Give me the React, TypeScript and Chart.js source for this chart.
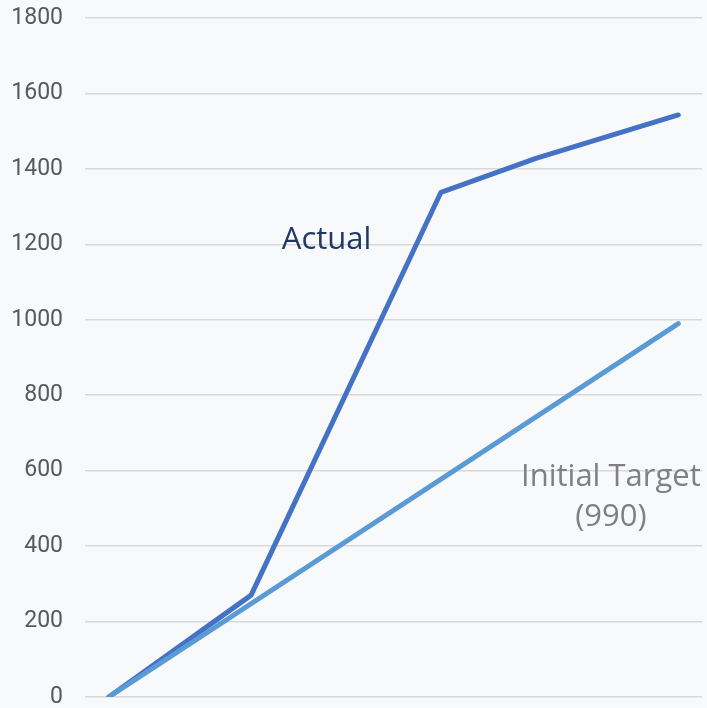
import React, { useEffect, useRef } from "react";
import { Chart, registerables } from "chart.js";

Chart.register(...registerables);

const categories = ["0", "1", "2", "3", "4", "5", "6", "7", "8", "9", "10", "11", "12"];
const actualValues: (number | null)[] = [0, null, null, 270, null, null, null, 1338, null, 1428, null, null, 1543];
const targetValues: (number | null)[] = [0, null, null, null, null, null, null, null, null, null, null, null, 990];
const yTicks = [0, 200, 400, 600, 800, 1000, 1200, 1400, 1600, 1800];

const labelsPlugin = {
  id: "seriesLabels",
  afterDatasetsDraw(chart: any) {
    const { ctx, scales } = chart;
    const x = scales.x;
    const y = scales.y;
    ctx.save();
    ctx.textAlign = "center";
    ctx.textBaseline = "middle";
    ctx.font = "31px 'Open Sans'";
    ctx.fillStyle = "#1F3864";
    ctx.fillText("Actual", x.getPixelForValue(4.59), y.getPixelForValue(1210));
    ctx.fillStyle = "#808080";
    ctx.fillText("Initial Target", x.getPixelForValue(10.58), y.getPixelForValue(582));
    ctx.fillText("(990)", x.getPixelForValue(10.58), y.getPixelForValue(478));
    ctx.restore();
  },
};

export default function App() {
  const ref = useRef<HTMLCanvasElement>(null);
  useEffect(() => {
    if (!ref.current) return;
    const chart = new Chart(ref.current, {
      type: "line",
      data: {
        labels: categories,
        datasets: [
          {
            label: "Initial Target",
            data: targetValues,
            borderColor: "#5B9BD5",
            borderWidth: 5,
            pointRadius: 0,
            spanGaps: true,
            borderCapStyle: "round",
            borderJoinStyle: "round",
            tension: 0,
          },
          {
            label: "Actual",
            data: actualValues,
            borderColor: "#4472C4",
            borderWidth: 5,
            pointRadius: 0,
            spanGaps: true,
            borderCapStyle: "round",
            borderJoinStyle: "round",
            tension: 0,
          },
        ],
      },
      options: {
        animation: false,
        responsive: false,
        maintainAspectRatio: false,
        layout: { padding: { top: 18, bottom: 11, right: 5, left: 0 } },
        plugins: { legend: { display: false }, tooltip: { enabled: false } },
        scales: {
          x: {
            type: "category",
            offset: true,
            display: false,
            afterFit: (s: any) => {
              s.height = 0;
              s.paddingTop = 0;
              s.paddingBottom = 0;
            },
          },
          y: {
            min: 0,
            max: 1800,
            afterFit: (s: any) => {
              s.width = 85;
              s.paddingTop = 0;
              s.paddingBottom = 0;
            },
            afterBuildTicks: (s: any) => {
              s.ticks = yTicks.map((v) => ({ value: v }));
            },
            border: { display: false },
            grid: { color: "#D9D9D9", lineWidth: 1.5, drawTicks: false },
            ticks: {
              padding: 22,
              color: "#595959",
              font: { family: "Roboto", size: 23 },
              callback: (v: any) => String(v),
            },
          },
        },
      },
      plugins: [labelsPlugin],
    });
    return () => chart.destroy();
  }, []);
  return (
    <div style={{ position: "fixed", left: 0, top: 0, width: 707, height: 708, background: "#F8F9FB" }}>
      <canvas ref={ref} width={707} height={708} style={{ display: "block" }} />
    </div>
  );
}
